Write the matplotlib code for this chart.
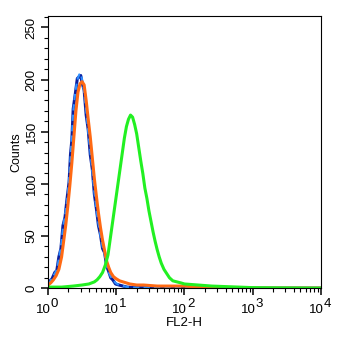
import numpy as np
import matplotlib
matplotlib.use("Agg")
import matplotlib.pyplot as plt
from matplotlib.ticker import LogLocator, MultipleLocator, NullFormatter

plt.rcParams['font.family'] = ['Liberation Sans', 'DejaVu Sans']

# histogram channels, in decades of FL2-H (value = 10**decade)
blue_dec = [0.00, 0.03, 0.06, 0.10, 0.13, 0.16, 0.19, 0.22, 0.25, 0.28, 0.31, 0.33,
            0.35, 0.37, 0.40, 0.43, 0.46, 0.48, 0.50, 0.53, 0.56, 0.59, 0.62, 0.65,
            0.68, 0.71, 0.74, 0.77, 0.80, 0.83, 0.86, 0.89, 0.92, 0.95, 0.99, 1.04,
            1.10, 1.16, 1.30, 1.60, 2.00, 3.00, 4.00]
blue_counts = [4, 6, 10, 14, 18, 28, 40, 58, 70, 84, 105, 125,
               145, 170, 188, 200, 205, 206, 200, 188, 170, 150, 132, 112,
               92, 75, 62, 50, 40, 33, 22, 15, 11, 8, 5, 3,
               2, 1, 0.5, 0.3, 0.2, 0, 0]
navy_counts = [3, 7, 9, 15, 17, 30, 38, 60, 68, 86, 102, 128,
               142, 172, 186, 201, 203, 204, 197, 190, 166, 152, 128, 114,
               90, 76, 60, 51, 38, 34, 21, 16, 10, 8, 4, 3,
               2, 1, 0.5, 0.3, 0.2, 0, 0]

orange_dec = [0.00, 0.04, 0.08, 0.12, 0.16, 0.20, 0.23, 0.26, 0.29, 0.32, 0.35, 0.38,
              0.41, 0.44, 0.47, 0.50, 0.53, 0.56, 0.59, 0.62, 0.65, 0.68, 0.71, 0.74,
              0.77, 0.80, 0.83, 0.86, 0.89, 0.92, 0.96, 1.00, 1.05, 1.10, 1.20, 1.30,
              1.40, 1.60, 1.80, 2.00, 2.20, 2.50, 3.00, 4.00]
orange_counts = [3, 5, 8, 12, 18, 30, 45, 60, 78, 98, 120, 145,
                 170, 188, 196, 198, 195, 180, 162, 145, 125, 105, 88, 72,
                 58, 46, 36, 26, 20, 15, 11, 9, 7, 6, 4, 3,
                 3, 2, 2, 2, 1, 0.5, 0, 0]

green_dec = [0.00, 0.20, 0.37, 0.50, 0.60, 0.68, 0.72, 0.76, 0.80, 0.84, 0.88, 0.91,
             0.94, 0.97, 1.00, 1.03, 1.06, 1.09, 1.12, 1.15, 1.18, 1.21, 1.24, 1.27,
             1.30, 1.33, 1.36, 1.39, 1.42, 1.45, 1.48, 1.51, 1.54, 1.57, 1.60, 1.63,
             1.66, 1.70, 1.74, 1.78, 1.83, 1.89, 1.95, 2.00, 2.10, 2.20, 2.30, 2.40,
             2.60, 2.80, 3.00, 3.30, 4.00]
green_counts = [1, 1, 2, 3, 4, 6, 8, 11, 15, 22, 32, 46,
                60, 74, 88, 102, 116, 130, 144, 155, 162, 166, 164, 157,
                148, 135, 122, 110, 96, 86, 74, 64, 54, 45, 37, 30,
                24, 18, 14, 10, 7, 6, 5, 4, 3.5, 3, 2.5, 2,
                1.5, 1, 0.5, 0.3, 0]

decades = [0, 1, 2, 3, 4]

fig = plt.figure(figsize=(3.5, 3.41), dpi=100)
ax = fig.add_axes([0.137, 0.155, 0.780, 0.798])

def fl(dec):
    return 10 ** np.asarray(dec)

ax.plot(fl(blue_dec), navy_counts, color='#0a1f9e', lw=2.2)
ax.plot(fl(blue_dec), blue_counts, color='#2f8fff', lw=1.5, dashes=(3, 2))
ax.plot(fl(orange_dec), orange_counts, color='#ff6a14', lw=2.2)
ax.plot(fl(green_dec), green_counts, color='#22f022', lw=2.2)

ax.set_xscale('log')
ax.set_xlim(1, 1e4)
ax.set_ylim(0, 261)
ax.xaxis.set_major_locator(LogLocator(base=10, numticks=10))
ax.xaxis.set_minor_locator(LogLocator(base=10, subs=np.arange(2, 10), numticks=10))
ax.xaxis.set_major_formatter(NullFormatter())
ax.xaxis.set_minor_formatter(NullFormatter())
ax.yaxis.set_major_locator(MultipleLocator(50))
ax.yaxis.set_minor_locator(MultipleLocator(10))

ax.tick_params(which='major', direction='out', length=5, width=1.1, labelsize=9.5, pad=2.5)
ax.tick_params(which='minor', direction='out', length=3, width=0.8)
for lab in ax.get_yticklabels():
    lab.set_rotation(90)
    lab.set_va('center')

# decade labels: "10" with a raised exponent of the same size
for d in decades:
    ax.annotate('10', xy=(10 ** d, 0), xycoords=('data', 'axes fraction'),
                xytext=(2, -18), textcoords='offset points',
                ha='right', va='baseline', fontsize=9.5)
    ax.annotate(str(d), xy=(10 ** d, 0), xycoords=('data', 'axes fraction'),
                xytext=(2, -13.5), textcoords='offset points',
                ha='left', va='baseline', fontsize=9.5)

for s in ax.spines.values():
    s.set_linewidth(0.8)

ax.set_xlabel('FL2-H', fontsize=9.5, labelpad=13.5)
ax.set_ylabel('Counts', fontsize=9, labelpad=2)

fig.savefig('out.png', dpi=100)
